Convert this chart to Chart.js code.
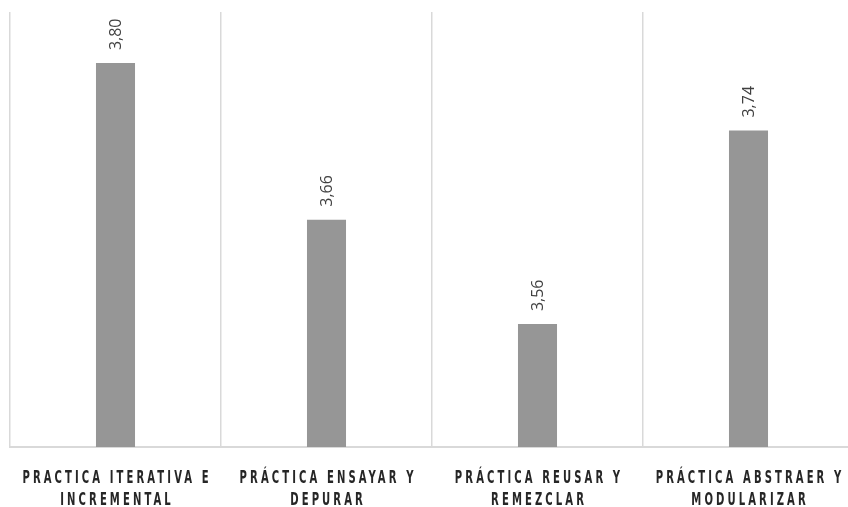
<!DOCTYPE html>
<html>
<head>
<meta charset="utf-8">
<script src="https://cdn.jsdelivr.net/npm/chart.js@4"></script>
<style>
  html, body { margin: 0; padding: 0; background: #fff; overflow: hidden; }
  #wrap { width: 848px; height: 507px; overflow: hidden; }
</style>
</head>
<body>
<div id="wrap"><canvas id="chart" width="866" height="507"></canvas></div>
<script>
// ---------- data ----------
const categories = [
  ["PRACTICA ITERATIVA E", "INCREMENTAL"],
  ["PRÁCTICA ENSAYAR Y", "DEPURAR"],
  ["PRÁCTICA REUSAR Y", "REMEZCLAR"],
  ["PRÁCTICA ABSTRAER Y", "MODULARIZAR"]
];
// bar heights; labels show the rounded values
const values = [3.80, 3.656, 3.56, 3.738];
const valueLabels = ["3,80", "3,66", "3,56", "3,74"];
const axisMin = 3.447;
const axisMax = 3.847;

// rotated value labels above each bar
const valueLabelPlugin = {
  id: "valueLabels",
  afterDatasetsDraw(chart) {
    const ctx = chart.ctx;
    const meta = chart.getDatasetMeta(0);
    ctx.save();
    ctx.fillStyle = "#404040";
    ctx.font = "16px 'Open Sans'";
    ctx.textAlign = "left";
    ctx.textBaseline = "middle";
    meta.data.forEach((bar, i) => {
      ctx.save();
      ctx.translate(bar.x + 1, bar.y - 13);
      ctx.rotate(-Math.PI / 2);
      ctx.fillText(valueLabels[i], 0, 0);
      ctx.restore();
    });
    ctx.restore();
  }
};

// condensed, letter-spaced category labels under the axis
const categoryLabelPlugin = {
  id: "categoryLabels",
  afterDraw(chart) {
    const ctx = chart.ctx;
    const xs = chart.scales.x;
    const sx = 0.62;     // horizontal squeeze
    const spacing = 5;   // letter spacing before squeeze
    ctx.save();
    ctx.fillStyle = "#262626";
    ctx.font = "bold 18px 'DejaVu Sans Condensed'";
    ctx.textAlign = "center";
    ctx.textBaseline = "alphabetic";
    ctx.letterSpacing = spacing + "px";
    categories.forEach((lines, i) => {
      const x = xs.getPixelForValue(i);
      lines.forEach((line, j) => {
        ctx.save();
        ctx.translate(x + spacing * sx / 2, xs.top + 36 + j * 22);
        ctx.scale(sx, 1);
        ctx.fillText(line, 0, 0);
        ctx.restore();
      });
    });
    ctx.restore();
  }
};

new Chart(document.getElementById("chart"), {
  type: "bar",
  data: {
    labels: categories.map(c => c.join(" ")),
    datasets: [{
      data: values,
      backgroundColor: "#969696",
      barPercentage: 0.185,
      categoryPercentage: 1
    }]
  },
  options: {
    responsive: false,
    animation: false,
    layout: { padding: { left: 10, right: 12, top: 12, bottom: 0 } },
    plugins: { legend: { display: false }, tooltip: { enabled: false } },
    scales: {
      x: {
        offset: true,
        grid: { offset: true, color: "#d9d9d9", lineWidth: 1.5, drawTicks: false },
        border: { display: true, color: "#d9d9d9", width: 2 },
        ticks: { display: false },
        afterFit(scale) { scale.height = 60; }
      },
      y: {
        display: false,
        min: axisMin,
        max: axisMax
      }
    }
  },
  plugins: [valueLabelPlugin, categoryLabelPlugin]
});
</script>
</body>
</html>
